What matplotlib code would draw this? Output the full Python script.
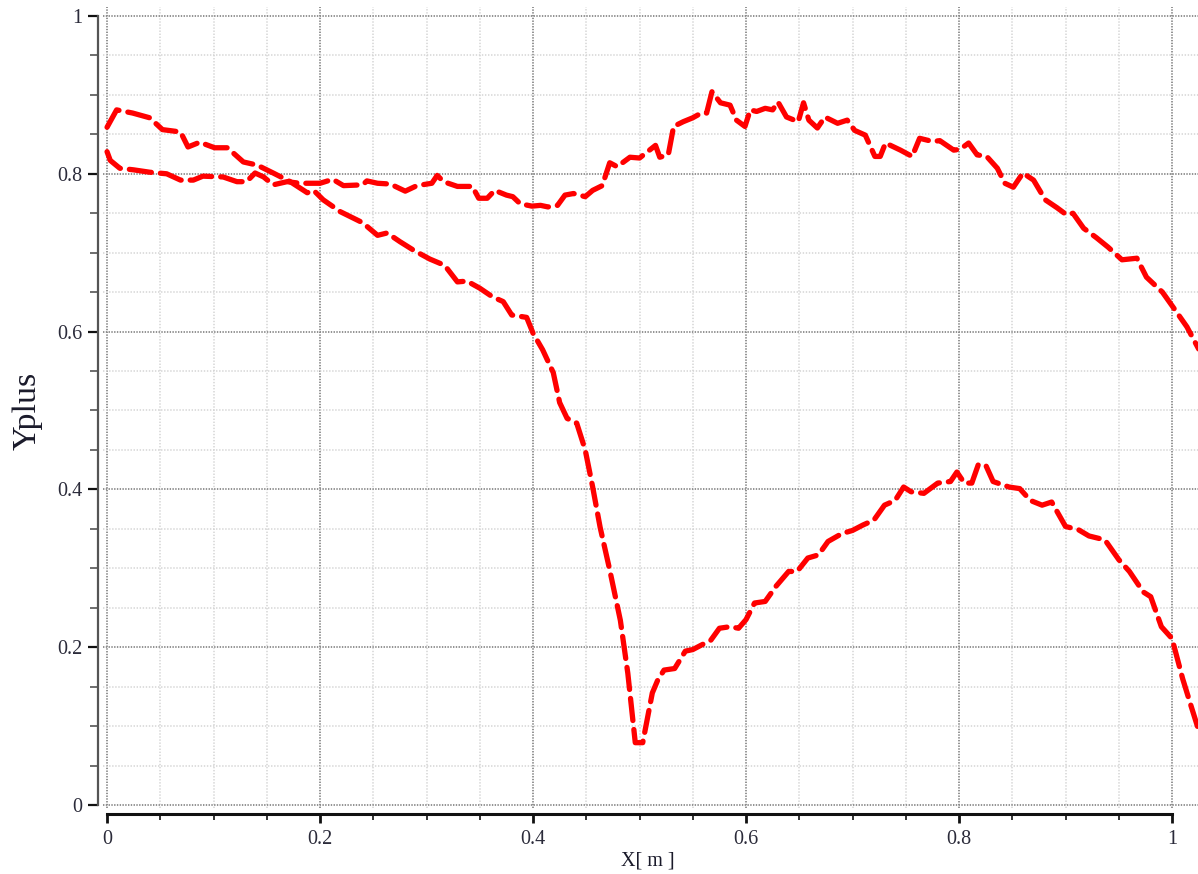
import matplotlib
matplotlib.use("Agg")
import matplotlib.pyplot as plt
from matplotlib.ticker import MultipleLocator, FixedLocator, FixedFormatter

# Wall A: smooth decay into a sharp dip near mid-span, then a second hump
x_wall_a = [0.000, 0.009, 0.024, 0.040, 0.052, 0.069, 0.076, 0.087, 0.101, 0.113,
            0.128, 0.141, 0.156, 0.172, 0.188, 0.194, 0.203, 0.219, 0.240, 0.254,
            0.263, 0.275, 0.288, 0.303, 0.317, 0.329, 0.338, 0.350, 0.362, 0.372,
            0.380, 0.394, 0.400, 0.409, 0.419, 0.425, 0.432, 0.441, 0.449, 0.456,
            0.463, 0.472, 0.482, 0.489, 0.496, 0.503, 0.512, 0.517, 0.523, 0.533,
            0.543, 0.550, 0.567, 0.575, 0.585, 0.593, 0.600, 0.608, 0.618, 0.628,
            0.640, 0.648, 0.658, 0.668, 0.677, 0.690, 0.700, 0.710, 0.720, 0.730,
            0.740, 0.748, 0.755, 0.767, 0.780, 0.792, 0.798, 0.805, 0.812, 0.818,
            0.825, 0.832, 0.847, 0.857, 0.867, 0.878, 0.887, 0.900, 0.912, 0.922,
            0.937, 0.950, 0.960, 0.973, 0.980, 0.990, 1.000, 1.010, 1.018, 1.025]
yplus_wall_a = [0.859, 0.881, 0.877, 0.871, 0.856, 0.853, 0.834, 0.840, 0.833, 0.833,
                0.815, 0.811, 0.801, 0.790, 0.776, 0.779, 0.767, 0.752, 0.738, 0.722,
                0.725, 0.714, 0.703, 0.692, 0.684, 0.663, 0.664, 0.655, 0.644, 0.638,
                0.621, 0.618, 0.598, 0.577, 0.548, 0.510, 0.490, 0.484, 0.450, 0.403,
                0.352, 0.298, 0.234, 0.167, 0.079, 0.079, 0.142, 0.158, 0.171, 0.173,
                0.195, 0.197, 0.209, 0.224, 0.226, 0.224, 0.235, 0.256, 0.258, 0.277,
                0.296, 0.296, 0.313, 0.317, 0.334, 0.344, 0.348, 0.355, 0.361, 0.380,
                0.386, 0.403, 0.397, 0.395, 0.408, 0.410, 0.422, 0.408, 0.408, 0.431,
                0.431, 0.410, 0.403, 0.401, 0.386, 0.380, 0.384, 0.353, 0.349, 0.341,
                0.336, 0.311, 0.296, 0.270, 0.264, 0.226, 0.211, 0.160, 0.125, 0.095]

# Wall B: nearly flat plateau, rise past mid-span, then gradual fall-off
x_wall_b = [0.000, 0.003, 0.012, 0.025, 0.040, 0.056, 0.069, 0.081, 0.090, 0.109,
            0.122, 0.131, 0.139, 0.147, 0.156, 0.169, 0.181, 0.200, 0.212, 0.222,
            0.240, 0.244, 0.254, 0.266, 0.280, 0.291, 0.305, 0.310, 0.316, 0.329,
            0.343, 0.349, 0.357, 0.364, 0.375, 0.381, 0.388, 0.399, 0.407, 0.414,
            0.423, 0.430, 0.438, 0.449, 0.456, 0.465, 0.472, 0.479, 0.491, 0.500,
            0.515, 0.519, 0.527, 0.532, 0.541, 0.550, 0.558, 0.563, 0.568, 0.576,
            0.585, 0.591, 0.599, 0.604, 0.610, 0.618, 0.625, 0.630, 0.638, 0.649,
            0.654, 0.659, 0.667, 0.674, 0.686, 0.695, 0.702, 0.712, 0.721, 0.726,
            0.731, 0.745, 0.756, 0.763, 0.775, 0.782, 0.795, 0.801, 0.809, 0.817,
            0.826, 0.836, 0.843, 0.851, 0.860, 0.870, 0.881, 0.892, 0.901, 0.907,
            0.917, 0.929, 0.940, 0.953, 0.967, 0.976, 0.991, 1.001, 1.014, 1.025]
yplus_wall_b = [0.828, 0.817, 0.807, 0.805, 0.802, 0.800, 0.792, 0.792, 0.797, 0.796,
                0.790, 0.790, 0.801, 0.796, 0.786, 0.790, 0.788, 0.788, 0.793, 0.785,
                0.786, 0.791, 0.788, 0.787, 0.778, 0.785, 0.788, 0.798, 0.790, 0.784,
                0.784, 0.769, 0.769, 0.779, 0.773, 0.771, 0.762, 0.759, 0.760, 0.758,
                0.760, 0.773, 0.775, 0.771, 0.779, 0.785, 0.814, 0.809, 0.821, 0.820,
                0.836, 0.821, 0.824, 0.860, 0.866, 0.871, 0.877, 0.877, 0.904, 0.890,
                0.887, 0.868, 0.860, 0.881, 0.879, 0.883, 0.881, 0.891, 0.872, 0.866,
                0.890, 0.868, 0.858, 0.872, 0.864, 0.868, 0.855, 0.849, 0.822, 0.822,
                0.839, 0.830, 0.822, 0.845, 0.841, 0.842, 0.830, 0.831, 0.839, 0.824,
                0.822, 0.807, 0.788, 0.783, 0.801, 0.792, 0.767, 0.757, 0.748, 0.750,
                0.731, 0.719, 0.707, 0.691, 0.693, 0.669, 0.650, 0.631, 0.606, 0.578]

tick_values = [0.0, 0.2, 0.4, 0.6, 0.8, 1.0]
tick_labels = ["0", "0.2", "0.4", "0.6", "0.8", "1"]

plt.rcParams["lines.scale_dashes"] = False
serif = ["Liberation Serif", "DejaVu Serif"]
label_color = "#2b2b3a"

W, H = 1198, 874
fig = plt.figure(figsize=(W / 100, H / 100), dpi=100)
ax = fig.add_axes([103 / W, (H - 808) / H, 1095 / W, 801 / H])

for xs, ys in ((x_wall_a, yplus_wall_a), (x_wall_b, yplus_wall_b)):
    ax.plot(xs, ys, color="#ff0000", linewidth=3.8, dashes=(16, 6.5),
            dash_capstyle="round", solid_joinstyle="round", zorder=3)

ax.set_xlim(-0.0038, 1.0244)
ax.set_ylim(-0.0038, 1.0114)

ax.xaxis.set_major_locator(FixedLocator(tick_values))
ax.xaxis.set_major_formatter(FixedFormatter(tick_labels))
ax.yaxis.set_major_locator(FixedLocator(tick_values))
ax.yaxis.set_major_formatter(FixedFormatter(tick_labels))
ax.xaxis.set_minor_locator(MultipleLocator(0.05))
ax.yaxis.set_minor_locator(MultipleLocator(0.05))

ax.grid(which="major", color="#8a8a8a", linestyle=(0, (1, 1)), linewidth=1.3, zorder=0)
ax.grid(which="minor", color="#d4d4d4", linestyle=(0, (1, 1.2)), linewidth=1.1, zorder=0)

for side in ("top", "right"):
    ax.spines[side].set_visible(False)
ax.spines["left"].set_position(("outward", 3.6))
ax.spines["left"].set_bounds(0, 1)
ax.spines["left"].set_color("#555555")
ax.spines["left"].set_linewidth(1.6)
ax.spines["bottom"].set_position(("outward", 4.5))
ax.spines["bottom"].set_bounds(0, 1)
ax.spines["bottom"].set_color("#111111")
ax.spines["bottom"].set_linewidth(2.2)

ax.tick_params(axis="y", which="major", length=7.5, width=1.6, color="#111111",
               pad=3.5, labelsize=14.5, labelcolor=label_color)
ax.tick_params(axis="y", which="minor", length=5.5, width=1.2, color="#555555")
ax.tick_params(axis="x", which="major", length=6.5, width=2.0, color="#111111",
               pad=5, labelsize=14.5, labelcolor=label_color)
ax.tick_params(axis="x", which="minor", length=4.5, width=1.4, color="#333333")
for lab in ax.get_xticklabels() + ax.get_yticklabels():
    lab.set_family(serif)

fig.text(27 / W, 1 - 411 / H, "Yplus", rotation=90, ha="center", va="center",
         family=serif, fontsize=24.5, color="#1a1a2a")
fig.text(648 / W, 1 - 861 / H, "X[ m ]", ha="center", va="center",
         family=serif, fontsize=14.5, color="#1a1a2a")

fig.savefig("out.png", dpi=100)
